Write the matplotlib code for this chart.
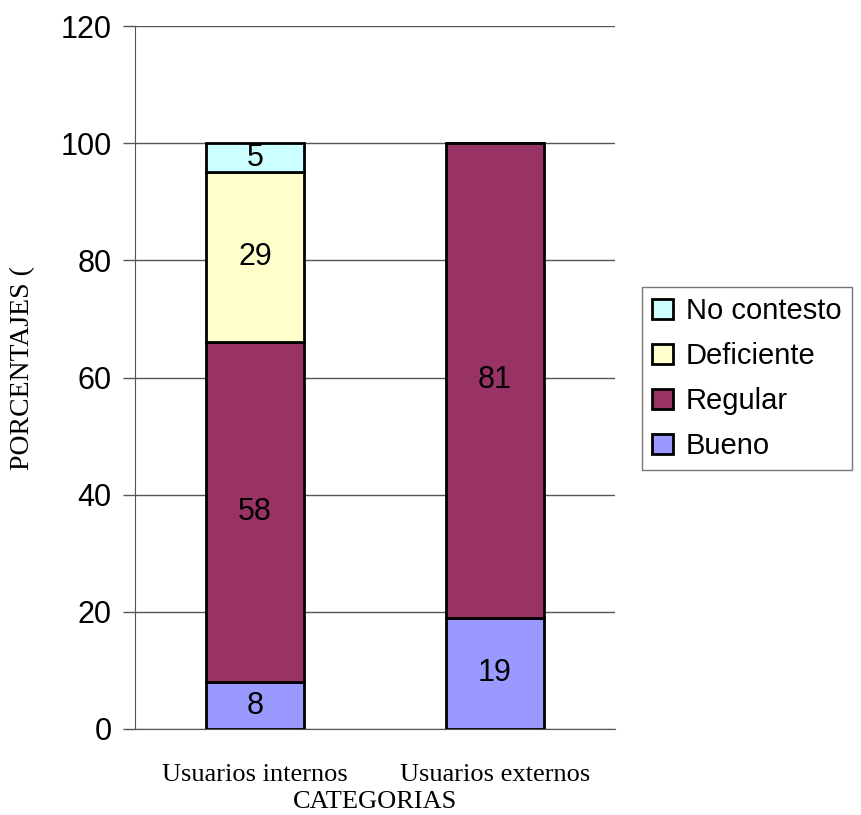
import matplotlib
matplotlib.use("Agg")
import matplotlib.pyplot as plt
import numpy as np

categories = ["Usuarios internos", "Usuarios externos"]
series_names = ["Bueno", "Regular", "Deficiente", "No contesto"]
bueno = [8, 19]
regular = [58, 81]
deficiente = [29, 0]
no_contesto = [5, 0]
colors = ["#9999FF", "#993366", "#FFFFCC", "#CCFFFF"]
yticks = [0, 20, 40, 60, 80, 100, 120]

sans = ["Liberation Sans", "DejaVu Sans"]
serif = ["Liberation Serif", "DejaVu Serif"]

fig = plt.figure(figsize=(8.62, 8.15), dpi=100)
ax = fig.add_axes([135 / 862, 86 / 815, 480 / 862, 703 / 815])

x = np.arange(len(categories))
bottom = np.zeros(len(categories))
handles = []
for name, vals, col in zip(series_names, [bueno, regular, deficiente, no_contesto], colors):
    vals = np.array(vals, dtype=float)
    bars = ax.bar(x, vals, 0.41, bottom=bottom, color=col, edgecolor="black",
                  linewidth=2, label=name, zorder=3)
    handles.append(bars)
    for xi, b, v in zip(x, bottom, vals):
        if v > 0:
            ax.text(xi, b + v / 2, f"{v:g}", ha="center", va="center",
                    fontsize=22, family=sans, zorder=4)
    bottom += vals

ax.set_xlim(-0.5, 1.5)
ax.set_ylim(0, 120)
ax.set_yticks(yticks)
ax.set_yticklabels([str(t) for t in yticks], fontsize=22, family=sans)
ax.set_xticks(x)
ax.set_xticklabels(categories, fontsize=19, family=serif)
ax.tick_params(axis="x", length=0, pad=25)
ax.tick_params(axis="y", length=9, width=1, color="#555555", pad=8)
ax.yaxis.grid(True, color="#555555", linewidth=1, zorder=0)
for s in ["top", "right"]:
    ax.spines[s].set_visible(False)
ax.spines["left"].set_color("#555555")
ax.spines["bottom"].set_color("#555555")

ax.set_xlabel("CATEGORIAS", fontsize=19, family=serif, labelpad=4)
fig.text(23 / 862, 1 - 368 / 815, "PORCENTAJES (", rotation=90, ha="center",
         va="center", fontsize=20, family=serif)

leg = fig.legend(handles[::-1], series_names[::-1], loc="upper left",
                 bbox_to_anchor=(642 / 862, 1 - 287 / 815),
                 prop={"family": sans, "size": 21}, frameon=True, fancybox=False,
                 handlelength=0.7, handleheight=0.7, handletextpad=0.45,
                 labelspacing=0.58, borderpad=0.35, borderaxespad=0)
leg.get_frame().set_edgecolor("#555555")
leg.get_frame().set_linewidth(1)
for h in leg.legend_handles:
    h.set_linewidth(2)

fig.savefig("out.png", dpi=100)
